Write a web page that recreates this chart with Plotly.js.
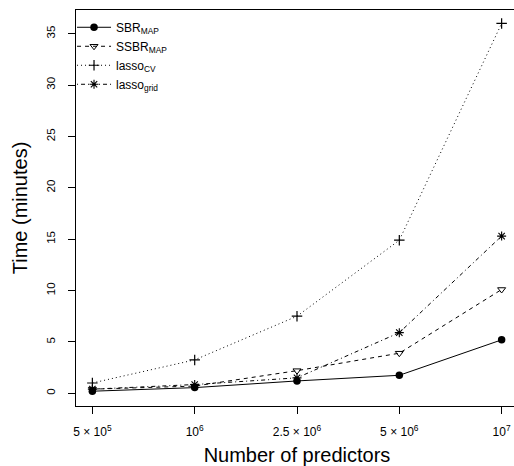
<!DOCTYPE html>
<html>
<head>
<meta charset="utf-8">
<script src="https://cdn.plot.ly/plotly-3.0.1.min.js"></script>
<style>
html, body { margin: 0; padding: 0; overflow: hidden; background: #fff; }
#chart { width: 520px; height: 466px; }
</style>
</head>
<body>
<div id="chart"></div>
<script>
const predictors = ["5 × 10<sup>5</sup>", "10<sup>6</sup>", "2.5 × 10<sup>6</sup>", "5 × 10<sup>6</sup>", "10<sup>7</sup>"];
const sbrMap = [0.2, 0.55, 1.2, 1.75, 5.2];
const ssbrMap = [0.4, 0.7, 2.2, 3.9, 10.1];
const lassoCV = [1.0, 3.25, 7.5, 14.9, 36.0];
const lassoGrid = [0.4, 0.85, 1.5, 5.9, 15.3];
const yTicks = [0, 5, 10, 15, 20, 25, 30, 35];

const font = "Liberation Sans, Arial, Helvetica, sans-serif";

const traces = [
  {name: "SBR<sub>MAP</sub>", y: sbrMap, line: {dash: "solid"},
   marker: {symbol: "circle", size: 7.5, color: "#000"}},
  {name: "SSBR<sub>MAP</sub>", y: ssbrMap, line: {dash: "4px,4px"},
   marker: {symbol: "triangle-down-open", size: 7, color: "#000", line: {width: 1, color: "#000"}}},
  {name: "lasso<sub>CV</sub>", y: lassoCV, line: {dash: "1px,3px"},
   marker: {symbol: "cross-thin-open", size: 7.5, color: "#000", line: {width: 1.2, color: "#000"}}},
  {name: "lasso<sub>grid</sub>", y: lassoGrid, line: {dash: "1px,3px,4px,3px"},
   marker: {symbol: "asterisk-open", size: 7.5, color: "#000", line: {width: 1.1, color: "#000"}}}
].map(t => Object.assign({
  x: predictors, type: "scatter", mode: "lines+markers",
}, t, {line: Object.assign({color: "#000", width: 1}, t.line)}));

const layout = {
  width: 520, height: 466,
  margin: {l: 76, r: 2, t: 10, b: 60},
  paper_bgcolor: "#fff", plot_bgcolor: "#fff",
  font: {family: font, color: "#000", size: 11},
  showlegend: true,
  legend: {x: -0.009, y: 0.993, xanchor: "left", yanchor: "top",
           bgcolor: "rgba(0,0,0,0)", borderwidth: 0, font: {size: 12}, tracegroupgap: 0,
           itemwidth: 34},
  xaxis: {
    type: "category", range: [-0.16, 4.16],
    showline: true, mirror: true, linecolor: "#000", linewidth: 1,
    ticks: "outside", ticklen: 7, tickcolor: "#000", tickwidth: 1,
    showgrid: false, zeroline: false, tickfont: {size: 12}, ticklabelstandoff: 8,
    title: {text: "Number of predictors", font: {size: 20}, standoff: 12}
  },
  yaxis: {
    range: [-1.24, 37.31], tickvals: yTicks,
    showline: true, mirror: true, linecolor: "#000", linewidth: 1,
    ticks: "outside", ticklen: 7, tickcolor: "#000", tickwidth: 1, tickangle: -90,
    showgrid: false, zeroline: false, tickfont: {size: 11.5}, ticklabelstandoff: 8,
    title: {text: "Time (minutes)", font: {size: 20}, standoff: 12}
  }
};

Plotly.newPlot("chart", traces, layout, {displayModeBar: false, staticPlot: true});
</script>
</body>
</html>
